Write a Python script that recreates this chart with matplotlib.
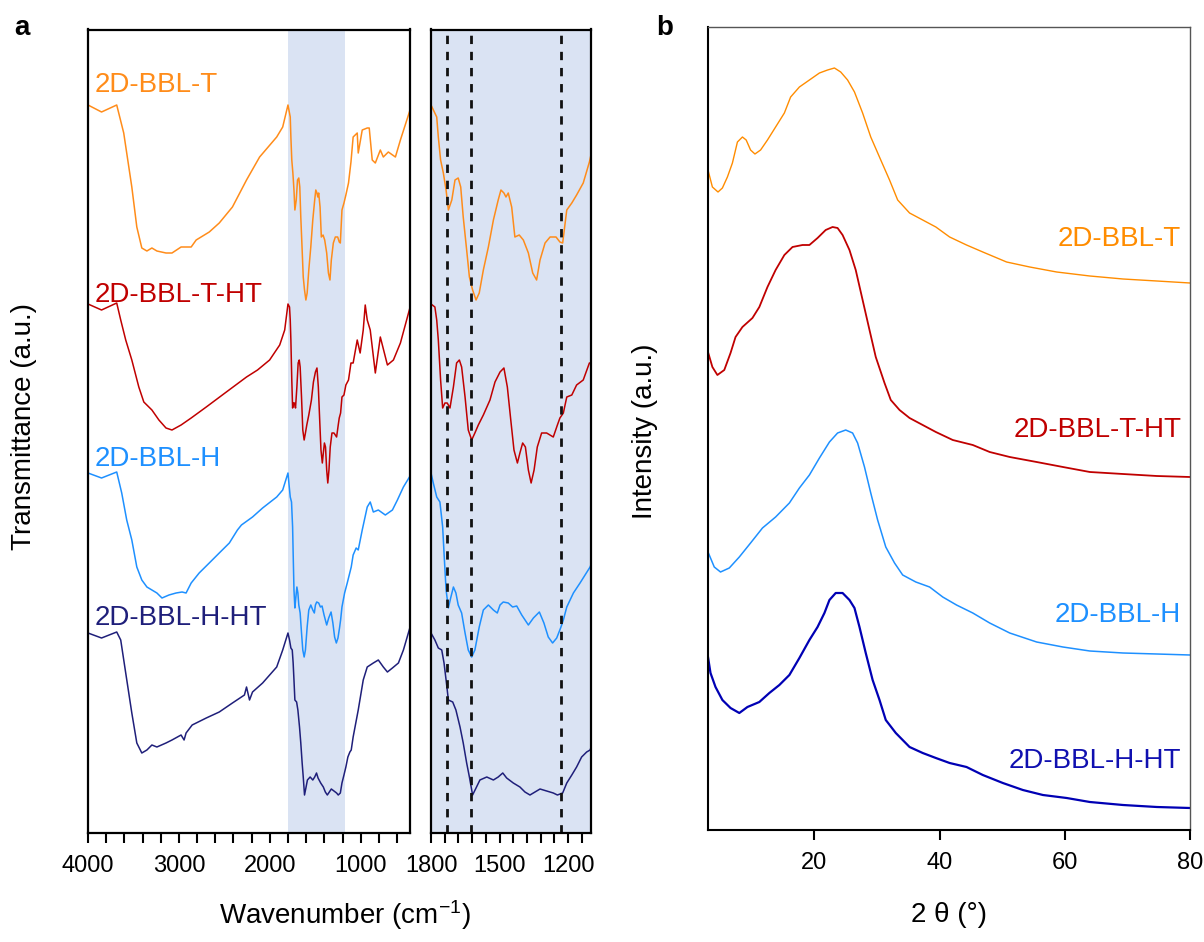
import matplotlib
matplotlib.use('Agg')
import matplotlib.pyplot as plt
from matplotlib.ticker import MultipleLocator

plt.rcParams['font.family'] = ['Liberation Sans', 'DejaVu Sans']
plt.rcParams['mathtext.default'] = 'regular'

# ---- FTIR data (wavenumber, transmittance a.u.) ----
wn_t = [4000, 3851, 3684, 3607, 3518, 3463, 3408, 3352, 3297, 3242, 3142, 3076, 2976, 2865, 2810,
        2666, 2556, 2411, 2256, 2112, 1924, 1858, 1800, 1775, 1768, 1758, 1746, 1734, 1724, 1709,
        1695, 1681, 1670, 1659, 1644, 1632, 1618, 1603, 1589, 1571, 1549, 1527, 1506, 1494, 1481,
        1472, 1462, 1447, 1433, 1414, 1396, 1374, 1355, 1338, 1323, 1301, 1279, 1253, 1236, 1224,
        1206, 1184, 1163, 1134, 1107, 1083, 1038, 1027, 983, 928, 906, 873, 839, 784, 751,
        696, 618, 563, 450]
tr_t = [73.5, 72.8, 73.5, 70.7, 65.3, 61.3, 59.2, 58.9, 59.2, 58.9, 58.7, 58.7, 59.3, 59.3, 60.0,
        60.8, 61.7, 63.3, 66.0, 68.3, 70.3, 71.3, 73.5, 72.3, 70.3, 68.0, 66.7, 65.0, 63.0, 64.0,
        66.0, 66.2, 65.3, 62.3, 59.0, 56.3, 55.0, 54.0, 54.7, 57.0, 59.3, 62.0, 64.0, 65.0, 64.7,
        64.3, 64.7, 63.3, 60.3, 60.5, 60.0, 58.7, 56.7, 56.0, 58.0, 59.7, 60.3, 60.3, 59.8, 59.7,
        63.0, 63.7, 64.5, 65.7, 67.8, 70.3, 70.7, 68.7, 71.0, 71.2, 71.2, 68.0, 67.7, 69.0, 68.3,
        68.8, 68.3, 70.0, 73.2]

wn_tht = [4000, 3851, 3684, 3640, 3585, 3518, 3441, 3386, 3297, 3220, 3142, 3076, 2976, 2865, 2699,
          2478, 2256, 2135, 2002, 1891, 1836, 1800, 1783, 1775, 1768, 1758, 1749, 1739, 1729, 1717,
          1702, 1688, 1676, 1666, 1651, 1637, 1622, 1608, 1593, 1571, 1542, 1520, 1498, 1481, 1466,
          1451, 1437, 1422, 1411, 1399, 1387, 1374, 1362, 1349, 1335, 1316, 1294, 1265, 1247, 1236,
          1221, 1206, 1184, 1163, 1134, 1107, 1083, 1038, 1006, 972, 950, 928, 895, 839, 784,
          706, 640, 563, 450]
tr_tht = [53.6, 53.0, 53.7, 52.0, 50.0, 48.0, 45.3, 43.8, 43.0, 42.0, 41.2, 41.0, 41.5, 42.2, 43.3,
          44.8, 46.3, 47.0, 48.0, 49.5, 51.0, 53.6, 53.3, 52.0, 50.0, 46.0, 43.2, 43.7, 43.7, 43.2,
          45.3, 47.7, 48.0, 47.3, 44.3, 41.0, 40.0, 40.7, 41.5, 42.5, 44.0, 45.8, 46.8, 47.2, 45.3,
          42.0, 39.0, 37.7, 38.7, 39.7, 39.3, 37.0, 35.7, 37.0, 39.3, 40.7, 40.7, 40.3, 41.5, 42.2,
          42.7, 44.3, 44.5, 45.5, 46.0, 47.7, 47.7, 50.0, 48.7, 51.0, 53.5, 52.0, 51.0, 46.7, 50.3,
          47.5, 48.0, 49.7, 53.5]

wn_h = [4000, 3851, 3684, 3629, 3574, 3518, 3463, 3408, 3352, 3297, 3242, 3186, 3109, 3031, 2965,
        2921, 2865, 2777, 2666, 2556, 2445, 2356, 2312, 2190, 2079, 1924, 1858, 1800, 1790, 1775,
        1761, 1749, 1743, 1734, 1724, 1714, 1702, 1691, 1681, 1666, 1651, 1637, 1622, 1608, 1589,
        1571, 1549, 1527, 1510, 1498, 1484, 1462, 1443, 1425, 1403, 1374, 1352, 1326, 1306, 1287,
        1268, 1250, 1233, 1221, 1206, 1177, 1148, 1126, 1104, 1083, 1050, 1027, 983, 928, 895,
        861, 806, 729, 651, 596, 530, 450]
tr_h = [36.7, 36.2, 36.8, 34.7, 32.0, 30.0, 27.3, 26.0, 25.3, 25.0, 24.7, 24.2, 24.5, 24.7, 24.8,
        24.7, 25.7, 26.7, 27.7, 28.7, 29.7, 31.0, 31.5, 32.3, 33.2, 34.3, 35.0, 36.7, 35.7, 34.3,
        33.8, 31.3, 28.7, 25.0, 23.2, 24.2, 25.3, 24.7, 23.5, 22.7, 20.7, 19.0, 18.3, 19.0, 21.3,
        23.0, 23.5, 23.0, 22.7, 23.5, 23.8, 23.7, 23.3, 23.4, 22.5, 21.5, 22.2, 22.8, 21.7, 20.3,
        19.7, 20.2, 21.2, 22.0, 23.3, 24.7, 25.7, 26.5, 27.3, 28.5, 29.2, 29.0, 31.0, 33.3, 33.8,
        32.8, 33.0, 32.5, 33.0, 34.0, 35.3, 36.5]

wn_hht = [4000, 3851, 3684, 3640, 3585, 3518, 3463, 3408, 3352, 3297, 3242, 3142, 3076, 2976, 2943,
          2921, 2854, 2699, 2556, 2411, 2279, 2256, 2223, 2190, 2079, 1924, 1858, 1800, 1783, 1768,
          1753, 1743, 1734, 1724, 1705, 1691, 1673, 1659, 1644, 1632, 1618, 1603, 1586, 1556, 1527,
          1506, 1486, 1469, 1440, 1411, 1389, 1367, 1345, 1323, 1294, 1265, 1247, 1224, 1206, 1184,
          1163, 1141, 1119, 1104, 1083, 1027, 972, 928, 861, 806, 751, 706, 651, 585, 530, 450]
tr_hht = [20.7, 20.2, 20.8, 20.0, 16.7, 12.7, 9.7, 8.7, 9.0, 9.5, 9.3, 9.7, 10.0, 10.5, 10.0,
          10.7, 11.5, 12.2, 12.8, 13.7, 14.5, 15.3, 14.0, 14.8, 15.7, 17.3, 19.0, 20.7, 20.0, 19.2,
          19.0, 17.7, 16.0, 14.0, 13.8, 13.0, 11.3, 9.7, 7.7, 6.3, 4.5, 5.2, 6.0, 6.3, 6.0,
          6.3, 6.7, 6.2, 5.7, 5.3, 4.8, 4.5, 4.8, 5.1, 4.9, 4.7, 4.5, 4.7, 5.7, 6.5,
          7.3, 8.3, 8.8, 9.0, 10.3, 13.0, 16.0, 17.3, 17.7, 18.0, 17.3, 16.8, 17.2, 17.7, 19.0, 21.5]

peak_lines = [1729, 1626, 1233]

# ---- XRD data (2 theta, intensity a.u.) ----
tt_t = [3.0, 3.7, 4.6, 5.3, 6.1, 6.9, 7.7, 8.5, 9.1, 9.8, 10.5, 11.4, 12.5, 13.8, 15.2, 16.2, 17.6,
        19.2, 20.8, 22.1, 23.2, 24.2, 25.3, 26.4, 27.7, 29.0, 30.6, 32.0, 33.3, 35.2, 37.3, 39.4,
        41.6, 44.3, 46.9, 50.7, 54.4, 58.7, 64.0, 69.3, 74.7, 80.0]
int_t = [66.6, 64.9, 64.4, 64.8, 65.9, 67.3, 69.4, 69.9, 69.6, 68.6, 68.2, 68.6, 69.6, 70.9, 72.3,
         73.9, 74.9, 75.6, 76.3, 76.6, 76.8, 76.4, 75.6, 74.4, 72.3, 69.9, 67.6, 65.6, 63.6, 62.3,
         61.6, 60.9, 59.9, 59.1, 58.4, 57.4, 56.9, 56.4, 56.0, 55.7, 55.5, 55.3]

tt_tht = [3.0, 3.7, 4.5, 5.6, 6.6, 7.4, 8.5, 10.1, 11.2, 12.5, 13.8, 15.2, 16.5, 18.1, 19.2, 20.5,
          21.8, 22.9, 23.7, 24.5, 25.6, 26.6, 27.7, 28.8, 29.8, 31.2, 32.2, 33.6, 35.2, 37.3, 39.4,
          42.1, 45.3, 48.0, 51.2, 55.5, 59.7, 64.0, 69.3, 74.7, 80.0]
int_tht = [48.4, 46.9, 46.1, 46.6, 48.3, 49.9, 50.9, 51.8, 52.9, 54.9, 56.6, 58.1, 58.9, 59.1, 59.1,
           59.8, 60.6, 60.9, 60.8, 60.1, 58.6, 56.6, 53.6, 50.6, 47.9, 45.3, 43.6, 42.6, 41.8, 41.1,
           40.4, 39.6, 39.1, 38.4, 37.9, 37.4, 36.9, 36.4, 36.2, 36.0, 35.9]

tt_h = [3.0, 4.0, 5.0, 6.4, 8.0, 9.8, 11.7, 13.8, 16.0, 17.6, 19.2, 20.8, 22.4, 23.7, 25.0, 26.1,
        26.9, 28.0, 29.0, 30.1, 31.4, 32.8, 34.1, 36.2, 38.4, 40.5, 42.7, 45.3, 48.0, 51.2, 55.5,
        59.7, 64.0, 69.3, 74.7, 80.0]
int_h = [28.4, 26.9, 26.4, 26.8, 27.9, 29.3, 30.8, 31.9, 33.3, 34.8, 36.1, 37.8, 39.4, 40.3, 40.6,
         40.3, 39.3, 36.9, 34.3, 31.6, 28.9, 27.3, 26.1, 25.4, 24.9, 23.9, 23.1, 22.3, 21.3, 20.3,
         19.4, 18.9, 18.5, 18.3, 18.2, 18.1]

tt_hht = [3.0, 3.4, 4.2, 5.3, 6.6, 8.0, 9.3, 11.2, 12.8, 14.4, 16.0, 17.6, 19.2, 20.5, 21.6, 22.4,
          23.4, 24.5, 25.6, 26.4, 27.2, 28.2, 29.3, 30.4, 31.4, 33.0, 35.2, 37.3, 39.4, 41.6, 44.3,
          46.9, 50.1, 53.3, 56.5, 60.3, 64.0, 69.3, 74.7, 80.0]
int_hht = [17.9, 16.3, 14.9, 13.6, 12.8, 12.3, 12.9, 13.4, 14.3, 15.1, 16.1, 17.8, 19.6, 20.9, 22.3,
           23.6, 24.3, 24.3, 23.6, 22.8, 20.9, 18.3, 15.6, 13.6, 11.6, 10.3, 8.9, 8.3, 7.8, 7.3,
           6.9, 6.1, 5.3, 4.6, 4.1, 3.8, 3.4, 3.1, 2.9, 2.8]

names = ["2D-BBL-T", "2D-BBL-T-HT", "2D-BBL-H", "2D-BBL-H-HT"]

ir_colors = ['#ff8c1a', '#c00000', '#1e90ff', '#1f1f7a']
xrd_colors = ['#ff8c00', '#c00000', '#1e90ff', '#0000b4']

W, H = 1204, 942
fig = plt.figure(figsize=(W / 100, H / 100), dpi=100)


def box(x0, y0, x1, y1):
    return [x0 / W, 1 - y1 / H, (x1 - x0) / W, (y1 - y0) / H]


ax1 = fig.add_axes(box(88, 29.5, 409.5, 833))
ax2 = fig.add_axes(box(431, 29.5, 591, 833))
ax3 = fig.add_axes(box(708, 27, 1190, 830))

ir = [(wn_t, tr_t), (wn_tht, tr_tht), (wn_h, tr_h), (wn_hht, tr_hht)]
xrd = [(tt_t, int_t), (tt_tht, int_tht), (tt_h, int_h), (tt_hht, int_hht)]

# panel a, full range
ax1.axvspan(1800, 1170, color='#dae3f3', lw=0, zorder=0)
for (x, y), c in zip(ir, ir_colors):
    ax1.plot(x, y, color=c, lw=1.1)
ax1.set_xlim(4000, 463)
ax1.set_ylim(0.7, 81.05)
ax1.xaxis.set_major_locator(MultipleLocator(1000))
ax1.xaxis.set_minor_locator(MultipleLocator(200))

for txt, yv, c in zip(names, [74.8, 53.8, 37.4, 21.5], ir_colors):
    ax1.text(3930, yv, txt, color=c, fontsize=20, ha='left', va='baseline')

# panel a, zoomed range
ax2.set_facecolor('#dae3f3')
for (x, y), c in zip(ir, ir_colors):
    ax2.plot(x, y, color=c, lw=1.1)
for p in peak_lines:
    ax2.axvline(p, color='#111111', lw=2, ls=(0, (3, 2.8)))
ax2.set_xlim(1800, 1100)
ax2.set_ylim(0.7, 81.05)
ax2.xaxis.set_major_locator(MultipleLocator(300))
ax2.xaxis.set_minor_locator(MultipleLocator(60))

for ax in (ax1, ax2):
    ax.set_yticks([])
    ax.tick_params(axis='x', which='both', direction='out', length=7, width=1.5,
                   labelsize=17, pad=9)
    for s in ax.spines.values():
        s.set_linewidth(1.6)
        s.set_color('black')

# panel b
lws = [1.0, 1.3, 1.1, 1.6]
for (x, y), c, lw in zip(xrd, xrd_colors, lws):
    ax3.plot(x, y, color=c, lw=lw)
ax3.set_xlim(3, 80)
ax3.set_ylim(0.6, 80.9)
ax3.set_xticks([20, 40, 60, 80])
ax3.set_yticks([])
ax3.tick_params(axis='x', direction='out', length=7, width=1.5, labelsize=17, pad=9)
for side in ('left', 'bottom'):
    ax3.spines[side].set_linewidth(1.5)
for side in ('top', 'right'):
    ax3.spines[side].set_linewidth(1.0)
    ax3.spines[side].set_color('#555555')

for txt, yv, c in zip(names, [59.0, 39.9, 21.4, 6.8], ['#ff8c00', '#c00000', '#1e90ff', '#1010b0']):
    ax3.text(78.6, yv, txt, color=c, fontsize=20, ha='right', va='baseline')

# axis labels and panel letters
fig.text(345 / W, 1 - 915 / H, 'Wavenumber (cm$^{-1}$)', fontsize=20, ha='center', va='center')
fig.text(949 / W, 1 - 915 / H, '2 θ (°)', fontsize=20, ha='center', va='center')
fig.text(24 / W, 1 - 426 / H, 'Transmittance (a.u.)', fontsize=20, rotation=90,
         ha='center', va='center')
fig.text(645 / W, 1 - 431 / H, 'Intensity (a.u.)', fontsize=20, rotation=90,
         ha='center', va='center')
fig.text(21.5 / W, 1 - 35 / H, 'a', fontsize=20, weight='bold', ha='center', va='baseline')
fig.text(665 / W, 1 - 35 / H, 'b', fontsize=20, weight='bold', ha='center', va='baseline')

fig.savefig('out.png', dpi=100)
